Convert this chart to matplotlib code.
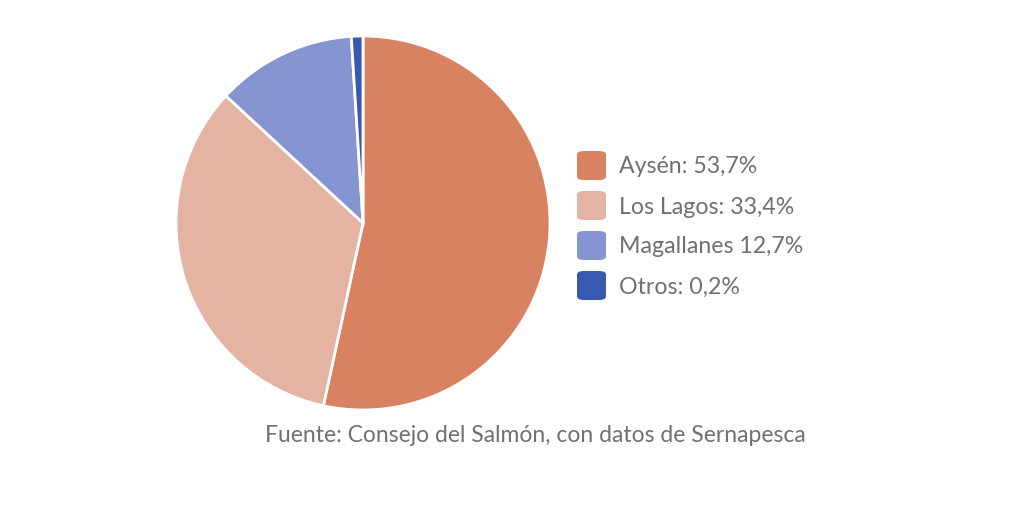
import matplotlib.pyplot as plt
from matplotlib.patches import FancyBboxPatch

# regiones y participacion
regiones = ["Aysén", "Los Lagos", "Magallanes", "Otros"]
etiquetas = ["Aysén: 53,7%", "Los Lagos: 33,4%", "Magallanes 12,7%", "Otros: 0,2%"]
# tamano de las tajadas tal como se ven en el grafico
tajadas = [53.4, 33.5, 12.1, 1.0]
colores = ["#D88262", "#E5B3A4", "#8495D1", "#3B58B0"]

plt.rcParams['font.family'] = ['Lato', 'DejaVu Sans']

fig = plt.figure(figsize=(10.24, 5.10), dpi=100)
W, H = 1024, 510

cx, cy, r = 363, 224, 187
ax = fig.add_axes([(cx - r) / W, (H - cy - r) / H, 2 * r / W, 2 * r / H])
wedges, _ = ax.pie(tajadas, colors=colores, startangle=90, counterclock=False, radius=1,
                   wedgeprops=dict(edgecolor="white", linewidth=2))
for w in wedges:
    w.set_clip_on(False)
ax.set_xlim(-1, 1)
ax.set_ylim(-1, 1)
ax.set_aspect("equal")
ax.axis("off")

# leyenda a mano
ys = [167, 207, 247, 287]
for etq, col, y in zip(etiquetas, colores, ys):
    sq = FancyBboxPatch((577 / W, (H - y - 14) / H), 29 / W, 29 / H,
                        boxstyle="round,pad=0,rounding_size=0.007",
                        transform=fig.transFigure, facecolor=col, edgecolor="none")
    fig.patches.append(sq)
    fig.text(619 / W, (H - y) / H, etq, fontsize=16.7, color="#707070", va="center", ha="left")

fig.text(535 / W, (H - 436) / H, "Fuente: Consejo del Salmón, con datos de Sernapesca",
         fontsize=16.5, color="#707070", ha="center", va="center")

fig.savefig("out.png", dpi=100, facecolor="white")
